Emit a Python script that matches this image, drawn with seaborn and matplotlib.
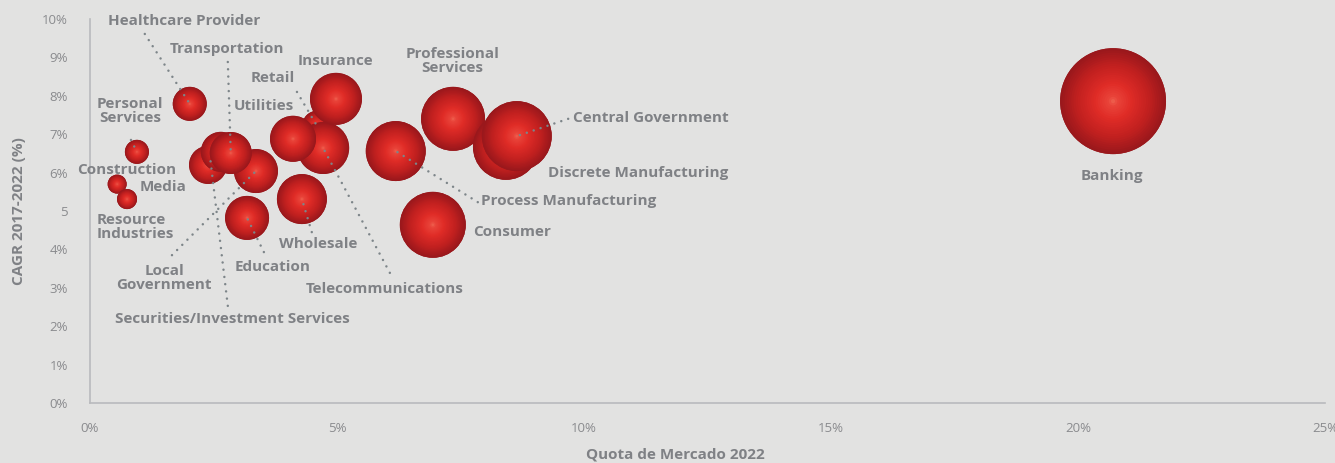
import numpy as np
import pandas as pd
import seaborn as sns
import matplotlib.pyplot as plt
from matplotlib.colors import LinearSegmentedColormap

# sectors, in drawing order (back to front)
setores = ["Personal Services", "Construction", "Resource Industries", "Healthcare Provider",
           "Local Government", "Media", "Securities/Investment Services", "Transportation",
           "Education", "Retail", "Telecommunications", "Utilities", "Insurance", "Wholesale",
           "Process Manufacturing", "Professional Services", "Consumer",
           "Discrete Manufacturing", "Central Government", "Banking"]
quota = [0.95, 0.55, 0.75, 2.02, 3.36, 2.39, 2.65, 2.85, 3.18, 4.60, 4.72, 4.11, 4.98, 4.29,
         6.19, 7.35, 6.94, 8.42, 8.64, 20.71]
cagr = [6.54, 5.70, 5.31, 7.79, 6.04, 6.20, 6.54, 6.51, 4.82, 7.22, 6.64, 6.88, 7.92, 5.31,
        6.56, 7.40, 4.64, 6.67, 6.95, 7.86]
gasto = [144, 90, 100, 289, 484, 361, 400, 441, 484, 225, 676, 529, 676, 625,
         900, 1024, 1089, 1089, 1225, 2809]

df = pd.DataFrame({"setor": setores, "quota": quota, "cagr": cagr, "gasto": gasto})

x_ticks = [0, 5, 10, 15, 20, 25]
x_tick_labels = ["0%", "5%", "10%", "15%", "20%", "25%"]
y_ticks = list(range(11))
y_tick_labels = ["0%", "1%", "2%", "3%", "4%", "5", "6%", "7%", "8%", "9%", "10%"]

# label placement: text, x, y, ha
rotulos = [
    ("Healthcare Provider", 1.90, 9.95, "center"),
    ("Transportation", 2.77, 9.22, "center"),
    ("Insurance", 4.96, 8.91, "center"),
    ("Professional\nServices", 7.33, 8.91, "center"),
    ("Retail", 3.70, 8.46, "center"),
    ("Personal\nServices", 0.81, 7.60, "center"),
    ("Utilities", 3.52, 7.73, "center"),
    ("Central Government", 9.78, 7.42, "left"),
    ("Construction", 0.75, 6.07, "center"),
    ("Media", 1.48, 5.63, "center"),
    ("Discrete Manufacturing", 9.27, 5.99, "left"),
    ("Banking", 20.69, 5.91, "center"),
    ("Process Manufacturing", 7.91, 5.26, "left"),
    ("Resource\nIndustries", 0.14, 4.58, "left"),
    ("Consumer", 7.75, 4.45, "left"),
    ("Wholesale", 4.62, 4.14, "center"),
    ("Local\nGovernment", 1.50, 3.26, "center"),
    ("Education", 3.70, 3.54, "center"),
    ("Telecommunications", 5.97, 2.97, "center"),
    ("Securities/Investment Services", 2.89, 2.19, "center"),
]

# dotted leaders: (x0, y0) -> (x1, y1)
guias = [
    (1.11, 9.61, 2.02, 7.79),
    (2.79, 8.88, 2.85, 6.51),
    (4.19, 8.10, 4.57, 7.27),
    (0.83, 6.85, 0.95, 6.54),
    (9.68, 7.40, 8.64, 6.95),
    (7.85, 5.23, 6.19, 6.56),
    (1.66, 3.85, 3.36, 6.04),
    (2.79, 2.53, 2.43, 6.41),
    (3.52, 3.93, 3.18, 4.82),
    (4.49, 4.45, 4.29, 5.31),
    (6.07, 3.39, 4.72, 6.64),
]

bg = "#e2e2e1"
cinza = "#7f8185"

sns.set_theme(style="white")
plt.rcParams['font.family'] = ['Open Sans', 'DejaVu Sans']

fig = plt.figure(figsize=(13.35, 4.63), dpi=100)
fig.patch.set_facecolor(bg)
ax = fig.add_axes([0.0674, 0.1296, 0.9251, 0.8294])
ax.set_facecolor(bg)

esfera = LinearSegmentedColormap.from_list(
    "esfera", [(0.0, "#9a181c"), (0.3, "#c1201f"), (0.65, "#e02c27"), (0.9, "#e9443a"), (1.0, "#f06a55")])

escala = 2.07  # px radius^2 -> pt^2
n_camadas = 24
for _, r in df.iterrows():
    s = r["gasto"] * escala
    sns.scatterplot(x=[r["quota"]], y=[r["cagr"]], s=s, color="#9a181c",
                    edgecolor="none", ax=ax, legend=False, zorder=3)
    fr = np.linspace(1, 0.04, n_camadas)
    ax.scatter([r["quota"]] * n_camadas, [r["cagr"]] * n_camadas, s=s * fr ** 2,
               c=[esfera(1 - f) for f in fr], edgecolors="none", zorder=3)

for x0, y0, x1, y1 in guias:
    ax.plot([x0, x1], [y0, y1], color="#7d8589", lw=1.8, ls=(0, (0.01, 2.9)),
            dash_capstyle="round", zorder=4)

for txt, x, y, ha in rotulos:
    ax.text(x, y, txt, ha=ha, va="center", fontsize=11, fontweight="bold",
            color=cinza, linespacing=0.95, zorder=5)

ax.set_xlim(0, 25)
ax.set_ylim(0, 10)
ax.set_xticks(x_ticks)
ax.set_xticklabels(x_tick_labels)
ax.set_yticks(y_ticks)
ax.set_yticklabels(y_tick_labels)
ax.tick_params(axis="both", length=0, labelsize=9.5, labelcolor="#8a8b8e")
ax.tick_params(axis="x", pad=14)
ax.tick_params(axis="y", pad=16)

for lado in ["top", "right"]:
    ax.spines[lado].set_visible(False)
for lado in ["left", "bottom"]:
    ax.spines[lado].set_color("#b9babd")
    ax.spines[lado].set_linewidth(1.2)

ax.set_xlabel("Quota de Mercado 2022", fontsize=11, fontweight="bold", color=cinza)
ax.set_ylabel("CAGR 2017-2022 (%)", fontsize=11, fontweight="bold", color=cinza)
ax.xaxis.set_label_coords(0.474, -0.115)
ax.yaxis.set_label_coords(-0.052, 0.5)

fig.savefig("out.png", dpi=100, facecolor=bg)
